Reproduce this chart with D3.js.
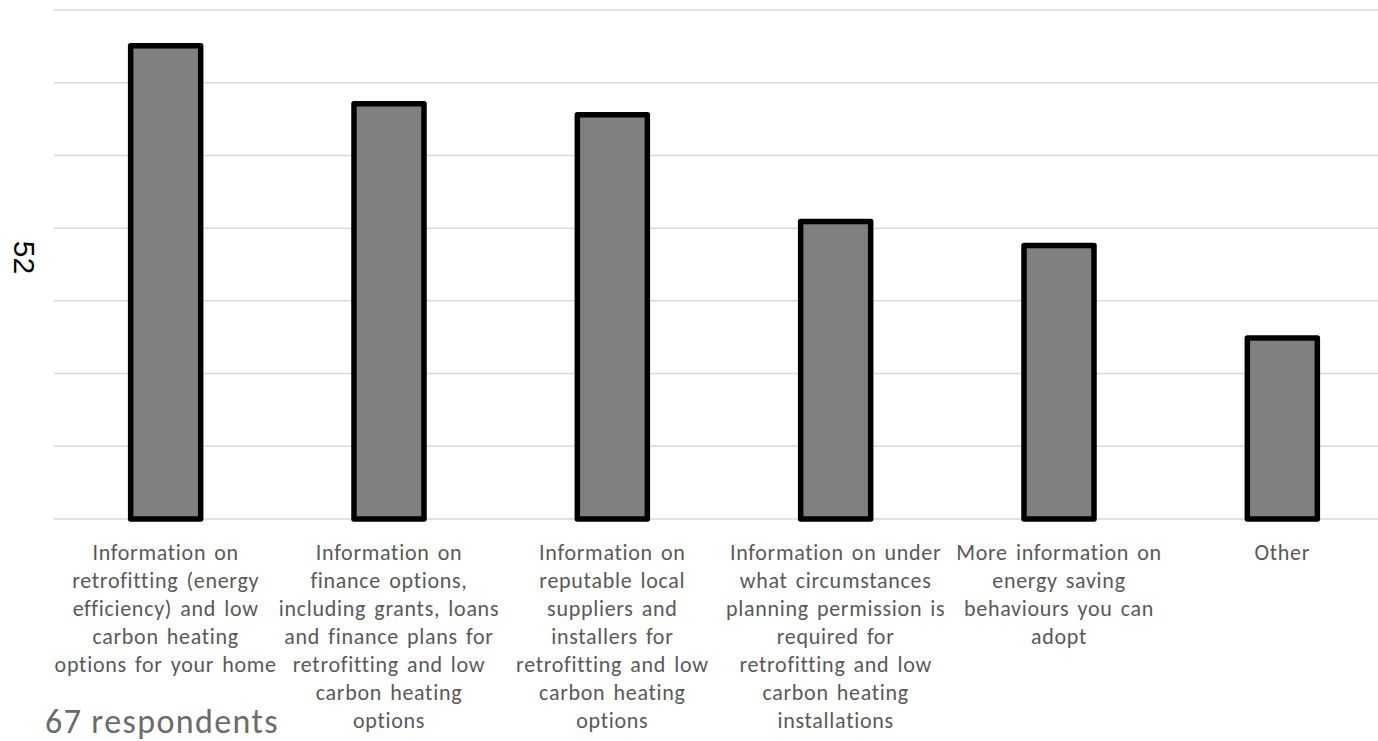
<!DOCTYPE html>
<html>
<head>
<meta charset="utf-8">
<script src="https://cdn.jsdelivr.net/npm/d3@7/dist/d3.min.js"></script>
<style>
  html, body { margin: 0; padding: 0; background: #fff; overflow: hidden; }
  svg { display: block; }
</style>
</head>
<body>
<svg id="chart" width="1378" height="741"></svg>
<script>
const categories = [
  "Information on retrofitting (energy efficiency) and low carbon heating options for your home",
  "Information on finance options, including grants, loans and finance plans for retrofitting and low carbon heating options",
  "Information on reputable local suppliers and installers for retrofitting and low carbon heating options",
  "Information on under what circumstances planning permission is required for retrofitting and low carbon heating installations",
  "More information on energy saving behaviours you can adopt",
  "Other"
];
const labelLines = [
  ["Information on", "retrofitting (energy", "efficiency) and low", "carbon heating", "options for your home"],
  ["Information on", "finance options,", "including grants, loans", "and finance plans for", "retrofitting and low", "carbon heating", "options"],
  ["Information on", "reputable local", "suppliers and", "installers for", "retrofitting and low", "carbon heating", "options"],
  ["Information on under", "what circumstances", "planning permission is", "required for", "retrofitting and low", "carbon heating", "installations"],
  ["More information on", "energy saving", "behaviours you can", "adopt"],
  ["Other"]
];
const values = [65.1, 57.1, 55.6, 40.9, 37.6, 24.9];
const yTicks = [0, 10, 20, 30, 40, 50, 60, 70];
const yTitle = "52";
const footnote = "67 respondents";

const svg = d3.select("#chart");
const plotLeft = 54, plotRight = 1394, plotTop = 10, plotBottom = 519;

const x = d3.scaleBand().domain(categories).range([plotLeft, plotRight])
  .paddingInner(0.6865).paddingOuter(0.6865 / 2);
const y = d3.scaleLinear().domain([0, 70]).range([plotBottom, plotTop]);

// gridlines
svg.append("g").selectAll("line").data(yTicks).join("line")
  .attr("x1", plotLeft).attr("x2", plotRight)
  .attr("y1", d => y(d)).attr("y2", d => y(d))
  .attr("stroke", "#d9d9d9").attr("stroke-width", 1.5);

// bars
svg.append("g").selectAll("rect").data(values).join("rect")
  .attr("x", (d, i) => x(categories[i]))
  .attr("width", x.bandwidth())
  .attr("y", d => y(d))
  .attr("height", d => y(0) - y(d))
  .attr("fill", "#808080")
  .attr("stroke", "#000")
  .attr("stroke-width", 5.5)
  .attr("stroke-linejoin", "round");

// category labels
const lab = svg.append("g")
  .attr("font-family", "Carlito, Calibri, Lato, 'Open Sans', sans-serif")
  .attr("font-size", 22)
  .attr("letter-spacing", 0.7)
  .attr("word-spacing", 2.5)
  .attr("fill", "#595959")
  .attr("text-anchor", "middle");
labelLines.forEach((lines, i) => {
  const cx = x(categories[i]) + x.bandwidth() / 2;
  lab.append("text")
    .selectAll("tspan").data(lines).join("tspan")
    .attr("x", cx)
    .attr("y", (d, j) => 560 + j * 28)
    .text(d => d);
});

// y title
svg.append("text")
  .attr("transform", "translate(24,257.5) rotate(90)")
  .attr("text-anchor", "middle")
  .attr("dominant-baseline", "central")
  .attr("font-family", "'Liberation Sans', Arial, sans-serif")
  .attr("font-size", 30)
  .attr("fill", "#000")
  .text(yTitle);

// footnote
svg.append("text")
  .attr("x", 45).attr("y", 733)
  .attr("font-family", "Carlito, Calibri, Lato, 'Open Sans', sans-serif")
  .attr("font-size", 34)
  .attr("letter-spacing", 1.4)
  .attr("fill", "#6b6b6b")
  .text(footnote);
</script>
</body>
</html>
